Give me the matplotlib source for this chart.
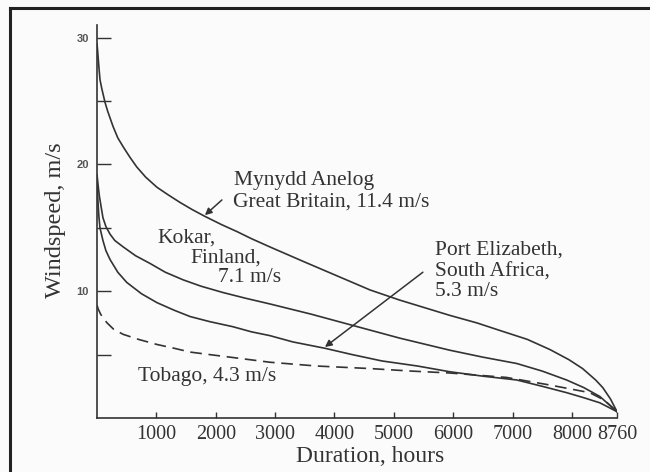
import matplotlib
matplotlib.use("Agg")
import matplotlib.pyplot as plt
from matplotlib.lines import Line2D

# ---- data ----
mynydd_h = [0, 10, 30, 50, 80, 135, 180, 270, 350, 440, 550, 670, 820, 1010, 1200, 1400,
            1600, 1820, 2100, 2360, 2600, 2910, 3500, 4000, 4600, 5100, 5940, 6400, 6790,
            7250, 7630, 7950, 8180, 8400, 8520, 8650, 8760]
mynydd_v = [29.5, 29.0, 27.8, 26.7, 26.0, 24.9, 24.2, 23.0, 22.1, 21.4, 20.6, 19.8, 19.0,
            18.2, 17.6, 17.0, 16.45, 15.9, 15.25, 14.7, 14.15, 13.5, 12.3, 11.3, 10.1, 9.3,
            8.1, 7.5, 6.9, 6.2, 5.4, 4.6, 3.9, 3.0, 2.4, 1.5, 0.5]

kokar_h = [0, 20, 40, 100, 150, 220, 300, 440, 650, 890, 1150, 1450, 1750, 2120, 2500,
           2910, 3600, 4310, 5100, 5940, 6500, 7070, 7500, 7910, 8200, 8470, 8760]
kokar_v = [19.2, 18.3, 17.5, 15.8, 15.1, 14.5, 14.0, 13.5, 12.8, 12.2, 11.5, 10.9, 10.4,
           9.9, 9.45, 9.0, 8.2, 7.3, 6.3, 5.35, 4.8, 4.3, 3.7, 3.0, 2.4, 1.7, 0.5]

pe_h = [0, 15, 30, 50, 100, 150, 220, 350, 500, 750, 1010, 1300, 1570, 1900, 2290, 2600,
        2910, 3300, 3840, 4300, 4800, 5400, 5940, 6500, 7070, 7500, 7910, 8200, 8470, 8760]
pe_v = [18.5, 17.2, 16.0, 15.0, 14.0, 13.2, 12.5, 11.5, 10.7, 9.8, 9.1, 8.5, 8.0, 7.6, 7.2,
        6.8, 6.5, 6.0, 5.5, 5.0, 4.5, 4.1, 3.65, 3.3, 3.0, 2.5, 2.0, 1.6, 1.2, 0.5]

tobago_h = [0, 20, 60, 100, 170, 280, 440, 700, 1010, 1300, 1570, 1900, 2240, 2910, 3700,
            4600, 5300, 5940, 6900, 7630, 8300, 8550, 8760]
tobago_v = [8.9, 8.6, 8.2, 7.9, 7.5, 7.0, 6.6, 6.2, 5.8, 5.5, 5.2, 5.0, 4.8, 4.4, 4.1,
            3.9, 3.7, 3.55, 3.2, 2.6, 2.0, 1.4, 0.5]

x_ticks = [1000, 2000, 3000, 4000, 5000, 6000, 7000, 8000, 8760]
x_ticklabels = ["1000", "2000", "3000", "4000", "5000", "6000", "7000", "8000", "8760"]
y_major = [10, 20, 30]
y_minor = [5, 15, 25]

W, H = 650, 472
INK = "#333333"
SERIF = ["Liberation Serif", "DejaVu Serif"]

fig = plt.figure(figsize=(6.5, 4.72), dpi=100)
fig.patch.set_facecolor("#fbfbfb")

ax = fig.add_axes([97 / W, 1 - 418 / H, (617 - 97) / W, (418 - 25) / H])
ax.set_facecolor("none")
ax.set_xlim(0, 8760)
ax.set_ylim(0, 31.0)

for s in ["top", "right"]:
    ax.spines[s].set_visible(False)
for s in ["left", "bottom"]:
    ax.spines[s].set_color(INK)
    ax.spines[s].set_linewidth(1.2)

lw = 1.2
ax.plot(mynydd_h, mynydd_v, color=INK, lw=lw)
ax.plot(kokar_h, kokar_v, color=INK, lw=lw)
ax.plot(pe_h, pe_v, color=INK, lw=lw)
ax.plot(tobago_h, tobago_v, color=INK, lw=lw, linestyle=(0, (7, 4)))

ax.set_xticks(x_ticks)
ax.set_xticklabels(x_ticklabels, fontfamily=SERIF, fontsize=14.5, color=INK)
ax.tick_params(axis="x", direction="in", length=4, width=1.0, color=INK, pad=5)

ax.set_yticks(y_major)
ax.set_yticks(y_minor, minor=True)
ax.set_yticklabels([str(v) for v in y_major], fontfamily=["Liberation Sans", "DejaVu Sans"],
                   fontsize=8, fontweight="bold", color="#555555")
ax.tick_params(axis="y", which="both", direction="in", length=10, width=1.0, color=INK, pad=6)


def ftxt(xp, yp, s, **kw):
    fig.text(xp / W, 1 - yp / H, s, fontfamily=SERIF, color=INK,
             va="center", ha=kw.pop("ha", "left"), **kw)


FS = 15.5
ftxt(234, 180, "Mynydd Anelog", fontsize=FS)
ftxt(233, 202, "Great Britain, 11.4 m/s", fontsize=FS)
ftxt(157, 238, "Kokar,", fontsize=FS)
ftxt(190, 258, "Finland,", fontsize=FS)
ftxt(218, 278, "7.1 m/s", fontsize=FS)
ftxt(435, 250, "Port Elizabeth,", fontsize=FS)
ftxt(435, 272, "South Africa,", fontsize=FS)
ftxt(435, 292, "5.3 m/s", fontsize=FS)
ftxt(138, 377, "Tobago, 4.3 m/s", fontsize=FS)

ftxt(370, 456, "Duration, hours", fontsize=17, ha="center")
fig.text(55 / W, 1 - 220 / H, "Windspeed, m/s", fontfamily=SERIF, color=INK,
         fontsize=17.5, rotation=90, ha="center", va="center")

arrow = dict(arrowstyle="-|>", color=INK, lw=1.1, mutation_scale=10, shrinkA=0, shrinkB=0)
ax.annotate("", xy=(1818, 16.0), xytext=(2104, 17.2), arrowprops=arrow)
ax.annotate("", xy=(3840, 5.6), xytext=(5490, 11.5), arrowprops=arrow)

# scan frame (top and left edges)
fig.add_artist(Line2D([10 / W, 1.0], [1 - 8 / H, 1 - 8 / H], transform=fig.transFigure,
                      color="#222222", lw=2.2))
fig.add_artist(Line2D([10 / W, 10 / W], [0.0, 1 - 8 / H], transform=fig.transFigure,
                      color="#222222", lw=2.2))

fig.savefig("out.png", dpi=100, facecolor=fig.get_facecolor())
